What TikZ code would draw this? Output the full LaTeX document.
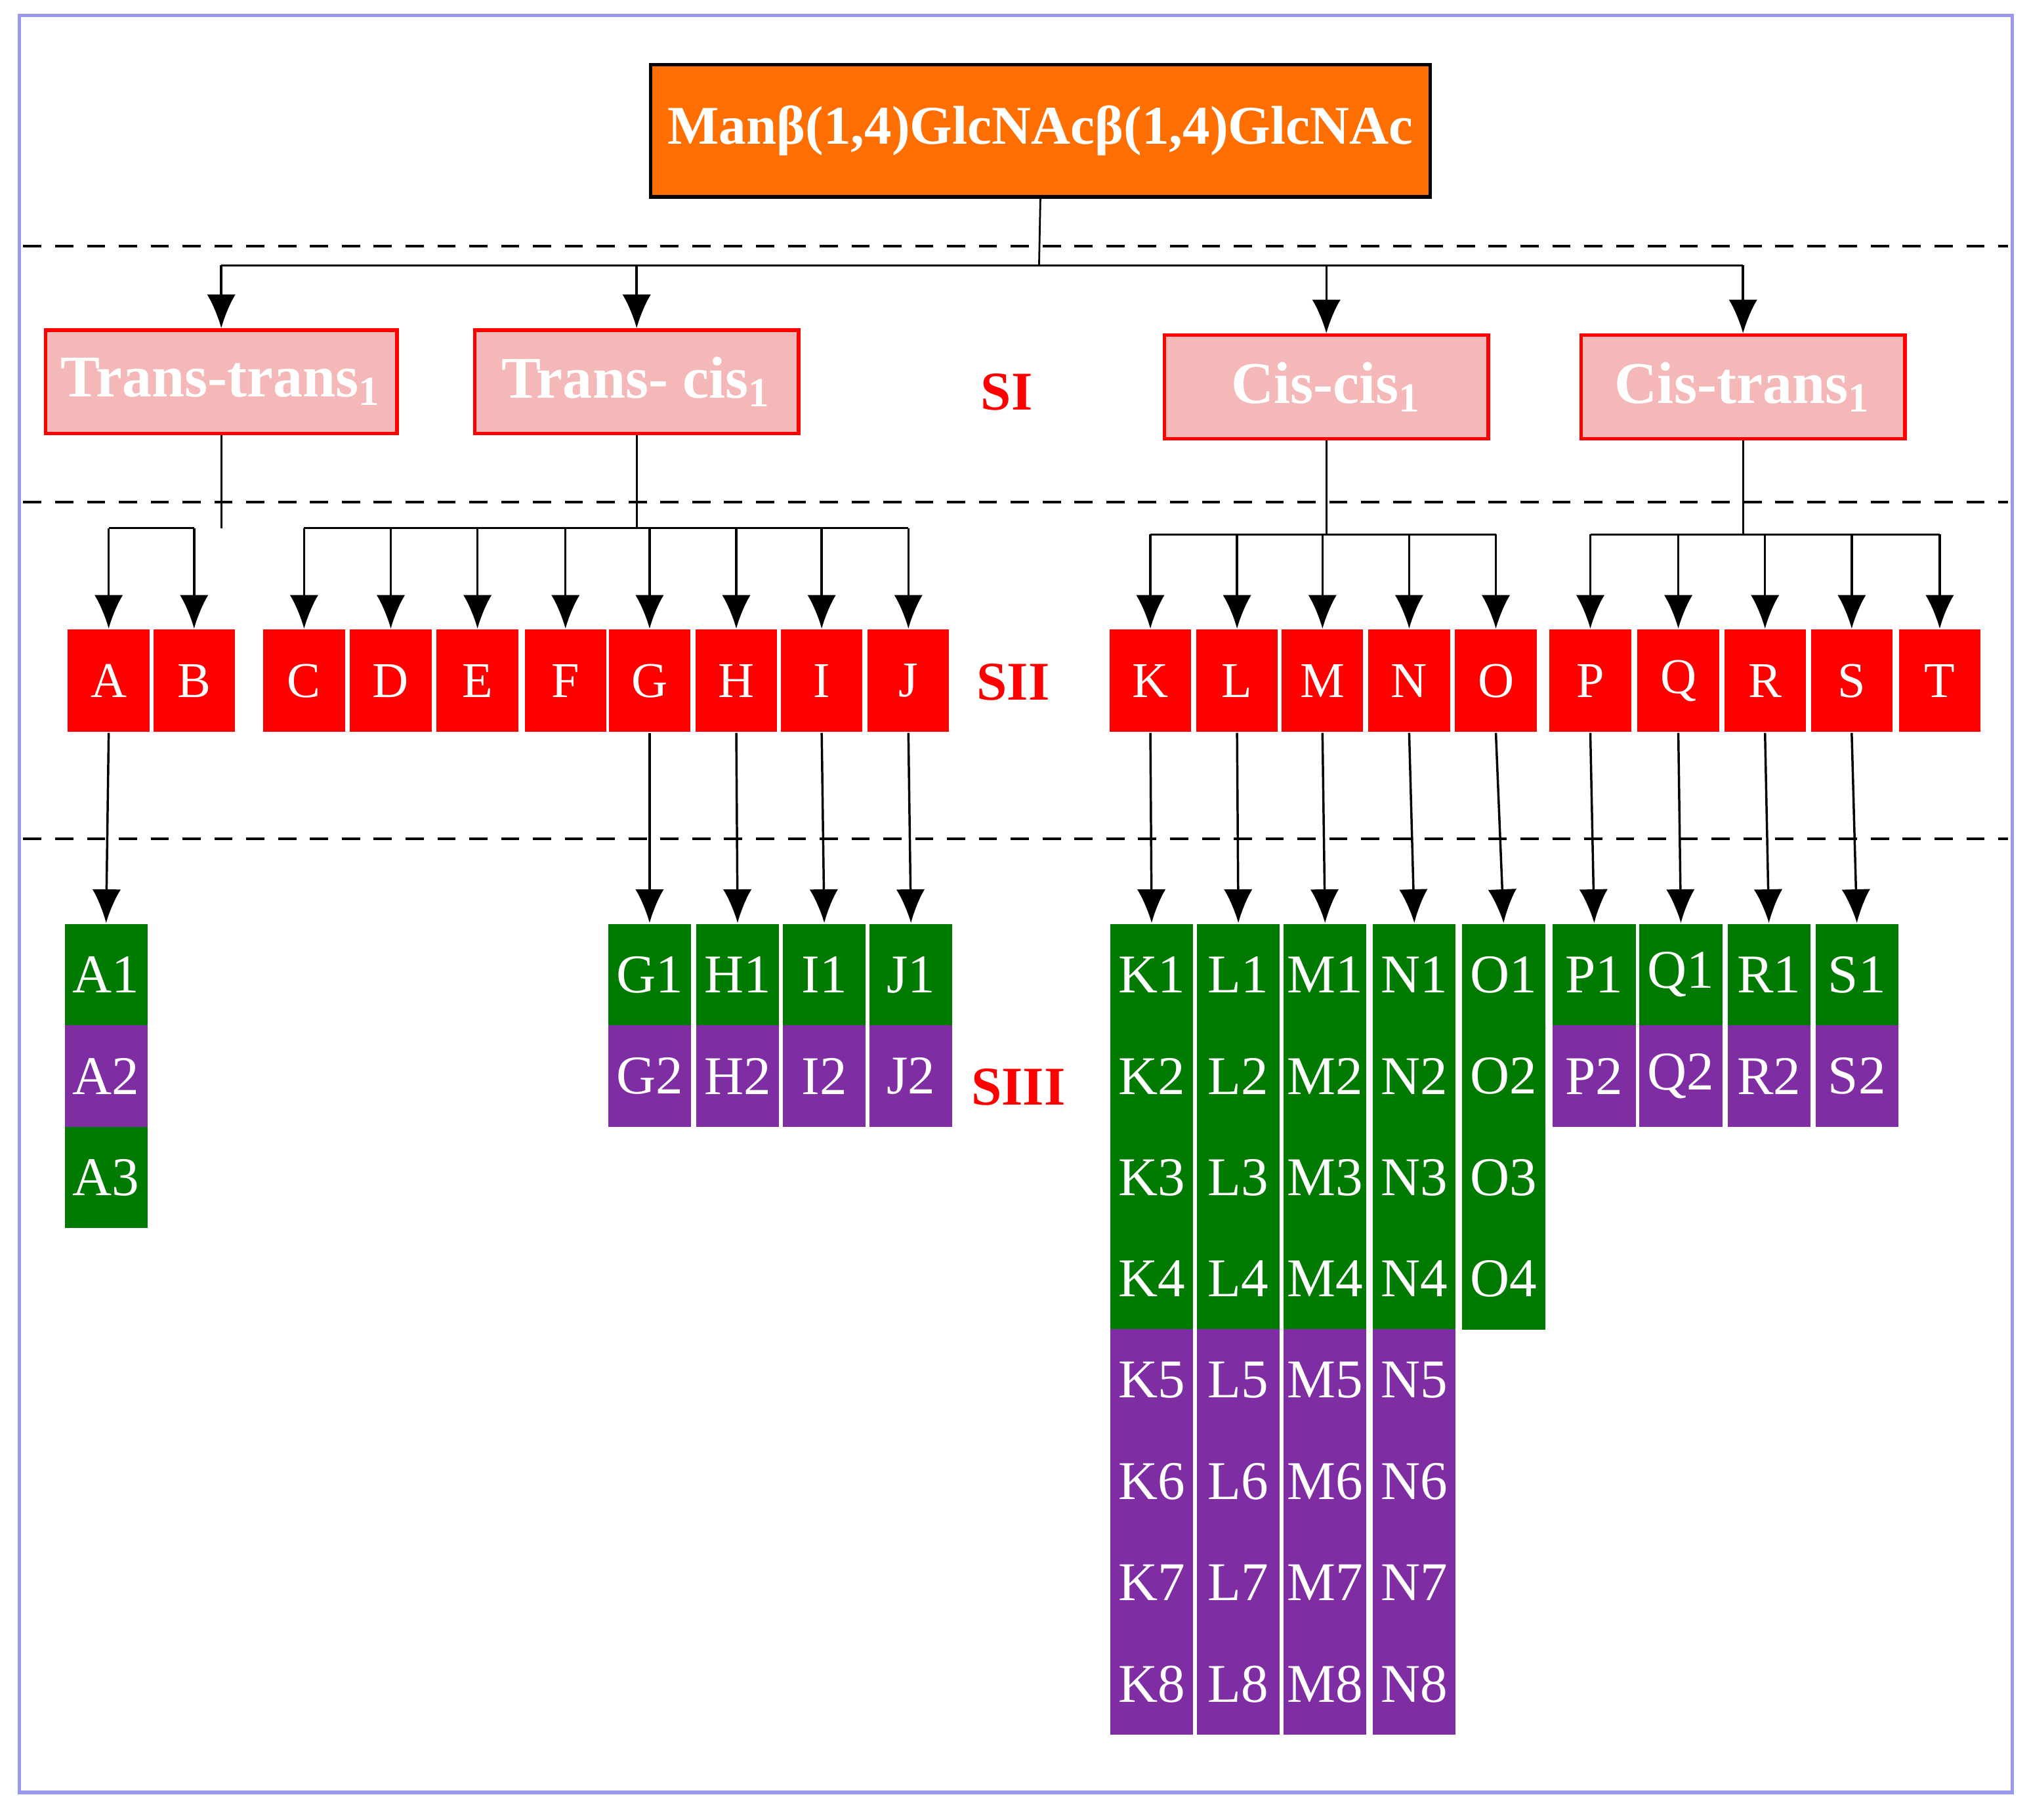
\documentclass[tikz,border=0pt]{standalone}
\usepackage{fontspec}
\setmainfont{Liberation Serif}
\usetikzlibrary{arrows.meta}
\definecolor{topor}{HTML}{FF6E00}
\definecolor{pinkbox}{HTML}{F4B8B8}
\definecolor{redbox}{HTML}{FF0000}
\definecolor{colg}{HTML}{007A00}
\definecolor{colp}{HTML}{7F2DA3}
\definecolor{frameblue}{HTML}{9999EE}
\tikzset{
  arr/.style={-{Latex[length=2.6mm,width=2.2mm]},line width=0.5pt},
  lev/.style={draw=redbox,fill=pinkbox,line width=0.8pt,minimum width=2.5cm,minimum height=0.8cm,text=white,font=\fontsize{13}{13}\selectfont\bfseries},
  sii/.style={fill=redbox,minimum width=0.63cm,minimum height=0.79cm,inner sep=0pt,text=white,font=\fontsize{11}{11}\selectfont},
  siii/.style={minimum width=0.64cm,minimum height=0.785cm,inner sep=0pt,text=white,font=\fontsize{12}{12}\selectfont},
  tag/.style={text=redbox,font=\fontsize{12}{12}\selectfont\bfseries},
  sep/.style={dashed,line width=0.6pt,dash pattern=on 4pt off 3pt}
}
\begin{document}
\begin{tikzpicture}[x=0.01cm,y=-0.01cm]
        \useasboundingbox (0,0) rectangle (1568,1406);
        \draw[frameblue,line width=0.8pt] (15,12) rectangle (1555,1385);

        % dashed separators
        \foreach \yy in {190,388,648}
            \draw[sep] (18,\yy) -- (1552,\yy);

        % top
        \node[draw=black,fill=topor,line width=0.8pt,minimum width=6.02cm,minimum height=1.02cm,text=white,font=\fontsize{12}{12}\selectfont\bfseries] (top) at (804,101) {Manβ(1,4)GlcNAcβ(1,4)GlcNAc};

        % level I
        \node[lev] (tt) at (171,295) {Trans-trans\textsubscript{1}};
        \node[lev] (tc) at (492,295) {Trans- cis\textsubscript{1}};
        \node[lev] (cc) at (1025,299) {Cis-cis\textsubscript{1}};
        \node[lev] (ct) at (1347,299) {Cis-trans\textsubscript{1}};

        \node[tag] (si) at (778,303) {SI};
        \node[tag] (sii) at (783,527) {SII};
        \node[tag] (siii) at (787,840) {SIII};

        \coordinate (bus0) at (803,205);
        \draw (top.south) -- (bus0);
        \draw (tt.north |- bus0) -- (ct.north |- bus0);
        \foreach \b in {tt,tc,cc,ct}
            \draw[arr] (\b.north |- bus0) -- (\b.north);

        % level II
        \foreach \c/\x in {A/84,B/150,C/235,D/302,E/369,F/437,G/502,H/569,I/635,J/702,
                           K/889,L/956,M/1022,N/1089,O/1156,P/1229,Q/1297,R/1364,S/1431,T/1499}
            \node[sii] (\c) at (\x,526) {\c};

        \coordinate (busA) at (171,408);
        \coordinate (busB) at (492,408);
        \coordinate (busC) at (1025,413);
        \coordinate (busD) at (1347,413);
        \draw (tt.south) -- (busA);
        \draw (tc.south) -- (busB);
        \draw (cc.south) -- (busC);
        \draw (ct.south) -- (busD);
        \draw (A.north |- busA) -- (B.north |- busA);
        \draw (C.north |- busB) -- (J.north |- busB);
        \draw (K.north |- busC) -- (O.north |- busC);
        \draw (P.north |- busD) -- (T.north |- busD);
        \foreach \c in {A,B}
            \draw[arr] (\c.north |- busA) -- (\c.north);
        \foreach \c in {C,D,E,F,G,H,I,J}
            \draw[arr] (\c.north |- busB) -- (\c.north);
        \foreach \c in {K,L,M,N,O}
            \draw[arr] (\c.north |- busC) -- (\c.north);
        \foreach \c in {P,Q,R,S,T}
            \draw[arr] (\c.north |- busD) -- (\c.north);

        % level III
        \foreach \c/\x/\seq in {A/82/{g,p,g},G/502/{g,p},H/570/{g,p},I/637/{g,p},J/704/{g,p},
                                K/890/{g,g,g,g,p,p,p,p},L/957/{g,g,g,g,p,p,p,p},M/1024/{g,g,g,g,p,p,p,p},
                                N/1093/{g,g,g,g,p,p,p,p},O/1162/{g,g,g,g},
                                P/1232/{g,p},Q/1299/{g,p},R/1367/{g,p},S/1435/{g,p}}{
            \foreach \t [count=\k] in \seq
                \node[siii,fill=col\t] (\c\k) at (\x,{714+78.3*(\k-0.5)}) {\c\k};
            \draw[arr] (\c.south) -- (\c1.north);
        }
    \end{tikzpicture}
\end{document}
